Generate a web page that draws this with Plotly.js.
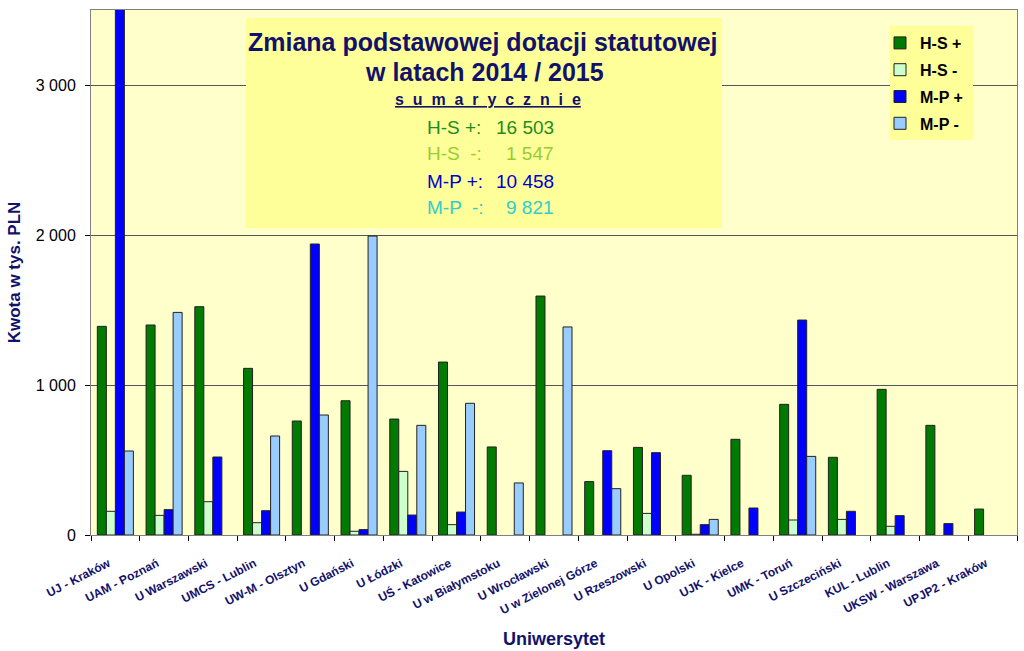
<!DOCTYPE html>
<html>
<head>
<meta charset="utf-8">
<script src="https://cdn.plot.ly/plotly-3.0.1.min.js"></script>
<style>html,body{margin:0;padding:0;background:#fff;}#chart{width:1024px;height:651px;}</style>
</head>
<body>
<div id="chart"></div>
<script>
const categories = ["UJ - Kraków", "UAM - Poznań", "U Warszawski", "UMCS - Lublin", "UW-M - Olsztyn",
  "U Gdański", "U Łódzki", "UŚ - Katowice", "U w Białymstoku", "U Wrocławski", "U w Zielonej Górze",
  "U Rzeszowski", "U Opolski", "UJK - Kielce", "UMK - Toruń", "U Szczeciński", "KUL - Lublin",
  "UKSW - Warszawa", "UPJP2 - Kraków"];
const hsPlus  = [1391, 1400, 1522, 1111, 760, 895, 773, 1153, 587, 1593, 356, 584, 398, 638, 871, 518, 971, 731, 173];
const hsMinus = [158, 131, 222, 82, null, 25, 424, 69, null, null, null, 144, 5, null, 100, 104, 58, null, null];
const mpPlus  = [4189, 169, 520, 162, 1940, 36, 133, 153, null, null, 562, 549, 69, 180, 1433, 158, 129, 76, null];
const mpMinus = [560, 1484, null, 660, 800, 1993, 731, 878, 347, 1387, 309, null, 104, null, 524, null, null, null, null];
const seriesNames = ["H-S +", "H-S -", "M-P +", "M-P -"];
const seriesColors = ["#007A00", "#CCFFCC", "#0000FF", "#99CCFF"];
const yTickVals = [0, 1000, 2000, 3000];
const yTickText = ["0", "1 000", "2 000", "3 000"];
const titleLines = ["Zmiana podstawowej dotacji statutowej", "w latach 2014 / 2015"];
const summaryHeader = "s\u00A0\u00A0u\u00A0\u00A0m\u00A0\u00A0a\u00A0\u00A0r\u00A0\u00A0y\u00A0\u00A0c\u00A0\u00A0z\u00A0\u00A0n\u00A0\u00A0i\u00A0\u00A0e";
const summaryLabels = ["H-S +:", "H-S \u00A0-:", "M-P +:", "M-P \u00A0-:"];
const summaryValues = ["16 503", "1 547", "10 458", "9 821"];
const summaryColors = ["#1E8C1E", "#99CC33", "#0000CC", "#33CCCC"];

const allSeries = [hsPlus, hsMinus, mpPlus, mpMinus];
const traces = allSeries.map((vals, i) => ({
  type: 'bar',
  x: categories,
  y: vals,
  name: seriesNames[i],
  legendgroup: 'g' + i,
  marker: {color: seriesColors[i], line: {color: '#222', width: 1}},
  hoverinfo: 'x+y+name'
}));

// paper coordinate helpers based on plot area (91..1017, 10..535)
const L = 91, R = 1017, T = 10, B = 535;
const px = v => (v - L) / (R - L);
const py = v => (B - v) / (B - T);

const navy = '#12126B';
const FONT = 'Liberation Sans, Arial, sans-serif';
const annotations = [];
annotations.push({xref:'paper', yref:'paper', x: px(483), y: py(42), text: '<b>' + titleLines[0] + '</b>', showarrow:false,
  font:{family:FONT, size:25, color:navy}, xanchor:'center', yanchor:'middle'});
annotations.push({xref:'paper', yref:'paper', x: px(484), y: py(72), text: '<b>' + titleLines[1] + '</b>', showarrow:false,
  font:{family:FONT, size:25, color:navy}, xanchor:'center', yanchor:'middle'});
annotations.push({xref:'paper', yref:'paper', x: px(488), y: py(100), text: '<b><u>' + summaryHeader + '</u></b>', showarrow:false,
  font:{family:FONT, size:16, color:navy}, xanchor:'center', yanchor:'middle'});
const lineY = [127, 154, 181, 208];
for (let i = 0; i < 4; i++) {
  annotations.push({xref:'paper', yref:'paper', x: px(425), y: py(lineY[i]), text: summaryLabels[i], showarrow:false,
    font:{family:FONT, size:19, color:summaryColors[i]}, xanchor:'left', yanchor:'middle'});
  annotations.push({xref:'paper', yref:'paper', x: px(556), y: py(lineY[i]), text: summaryValues[i], showarrow:false,
    font:{family:FONT, size:19, color:summaryColors[i]}, xanchor:'right', yanchor:'middle'});
}

const layout = {
  width: 1024, height: 651,
  margin: {l: L, r: 1024 - R, t: T, b: 651 - B},
  paper_bgcolor: '#FFFFFF',
  plot_bgcolor: '#FFFFCC',
  barmode: 'group',
  bargap: 0.26,
  bargroupgap: 0,
  font: {family: FONT, color: '#000'},
  showlegend: true,
  legend: {
    x: px(880), y: py(26), xanchor: 'left', yanchor: 'top',
    bgcolor: 'rgba(0,0,0,0)', borderwidth: 0,
    font: {size: 16, color: '#000', family: FONT, weight: 'bold'},
    traceorder: 'grouped', tracegroupgap: 3,
    itemwidth: 30
  },
  xaxis: {
    type: 'category',
    tickangle: -27,
    tickfont: {size: 12, color: navy, family: FONT, weight: 'bold'},
    ticks: 'outside', ticklen: 5, tickcolor: '#000', tickson: 'boundaries',
    ticklabelstandoff: 16, ticklabelshift: -7,
    showline: true, linecolor: '#808080', linewidth: 1, mirror: true,
    showgrid: false,
    title: {text: '<b>Uniwersytet</b>', font: {size: 18, color: navy}, standoff: 16}
  },
  yaxis: {
    range: [0, 3500],
    tickvals: yTickVals, ticktext: yTickText,
    tickfont: {size: 16, color: '#000'},
    ticks: 'outside', ticklen: 5, tickcolor: '#000',
    ticklabelstandoff: 6,
    showline: true, linecolor: '#808080', linewidth: 1, mirror: true,
    showgrid: true, gridcolor: '#555', gridwidth: 1,
    zeroline: false,
    title: {text: '<b>Kwota w tys. PLN</b>', font: {size: 17, color: navy}, standoff: 10}
  },
  shapes: [{
    type: 'rect', xref: 'paper', yref: 'paper', layer: 'above',
    x0: px(246), x1: px(722), y0: py(228), y1: py(18),
    fillcolor: '#FFFF99', line: {width: 0}
  }, {
    type: 'rect', xref: 'paper', yref: 'paper', layer: 'above',
    x0: px(890), x1: px(973), y0: py(140), y1: py(26),
    fillcolor: '#FFFF99', line: {width: 0}
  }],
  annotations: annotations
};

Plotly.newPlot('chart', traces, layout, {displayModeBar: false, staticPlot: true});
</script>
</body>
</html>
